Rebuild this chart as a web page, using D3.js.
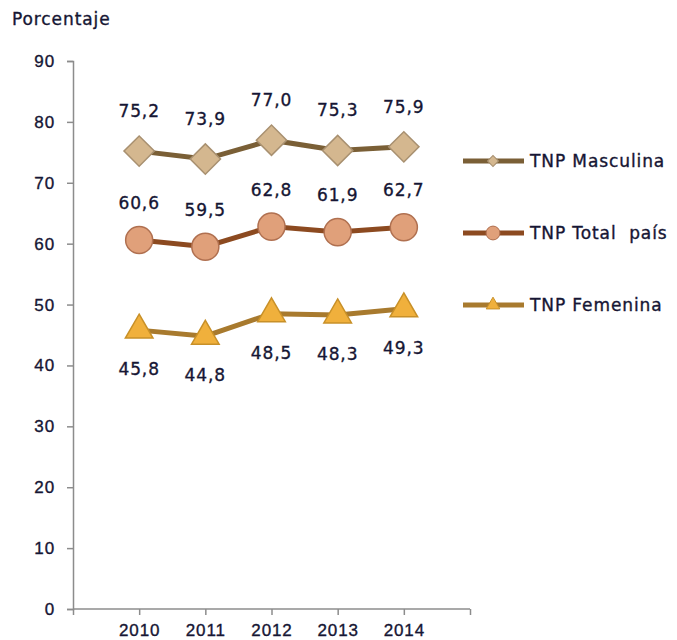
<!DOCTYPE html>
<html>
<head>
<meta charset="utf-8">
<script src="https://cdn.jsdelivr.net/npm/d3@7"></script>
<style>
body{margin:0;background:#fff;}
svg{display:block;font-family:Verdana,"DejaVu Sans",sans-serif;}
svg text{white-space:pre;letter-spacing:0.9px;stroke:#161634;stroke-width:0.35px;}
</style>
</head>
<body>
<svg id="chart" width="677" height="640"></svg>
<script>
let years=[2010,2011,2012,2013,2014];
let masculina=[75.2,73.9,77.0,75.3,75.9];
let total=[60.6,59.5,62.8,61.9,62.7];
let femenina=[45.8,44.8,48.5,48.3,49.3];
let yTicks=[0,10,20,30,40,50,60,70,80,90];
let seriesNames=["TNP Masculina","TNP Total  país","TNP Femenina"];

let svg=d3.select("#chart");
let txt="#161634";

let xScale=d3.scaleLinear().domain([2009,2015]).range([73,470]);
let yScale=d3.scaleLinear().domain([0,90]).range([609,61]);

// y axis
let yAxis=d3.axisLeft(yScale).tickValues(yTicks).tickSize(6).tickPadding(12);
let gy=svg.append("g").attr("transform","translate(73,0)").call(yAxis);
gy.select(".domain").attr("stroke","#8c8c8c").attr("stroke-width",1.5);
gy.selectAll(".tick line").attr("stroke","#8c8c8c").attr("stroke-width",1.5);
gy.selectAll(".tick text").style("font-size","17px").attr("fill",txt);

// x axis
let xAxis=d3.axisBottom(xScale).tickValues([2009,2010,2011,2012,2013,2014,2015])
  .tickSize(6).tickPadding(9).tickFormat(d=>years.includes(d)?d:"");
let gx=svg.append("g").attr("transform","translate(0,609)").call(xAxis);
gx.select(".domain").attr("stroke","#8c8c8c").attr("stroke-width",1.5).attr("d","M73,0H470");
gx.selectAll(".tick line").attr("stroke","#8c8c8c").attr("stroke-width",1.5);
gx.selectAll(".tick text").style("font-size","17px").attr("fill",txt);

svg.append("text").text("Porcentaje").attr("x",12).attr("y",25)
  .style("font-size","17px").attr("fill",txt);

let series=[
  {name:seriesNames[0],vals:masculina,line:"#7a5f36",fill:"#d4b78f",stroke:"#a89070",shape:d3.symbolSquare,rot:45,size:460,lsize:60,lab:-40},
  {name:seriesNames[1],vals:total,line:"#8c4a20",fill:"#e0a07a",stroke:"#b07050",shape:d3.symbolCircle,rot:0,size:575,lsize:150,lab:-37},
  {name:seriesNames[2],vals:femenina,line:"#a87a2e",fill:"#f0b03c",stroke:"#c89028",shape:d3.symbolTriangle,rot:0,size:330,lsize:80,lab:39}
];

let line=d3.line().x((d,i)=>xScale(years[i])).y(d=>yScale(d));

series.forEach((s,k)=>{
  svg.append("path").datum(s.vals).attr("d",line).attr("fill","none")
    .attr("stroke",s.line).attr("stroke-width",5);
  svg.selectAll(null).data(s.vals).enter().append("path")
    .attr("d",d3.symbol().type(s.shape).size(s.size))
    .attr("transform",(d,i)=>`translate(${xScale(years[i])},${yScale(d)}) rotate(${s.rot})`)
    .attr("fill",s.fill).attr("stroke",s.stroke).attr("stroke-width",1.5);
  svg.selectAll(null).data(s.vals).enter().append("text")
    .text(d=>d.toFixed(1).replace(".",","))
    .attr("x",(d,i)=>xScale(years[i])).attr("y",d=>yScale(d)+s.lab)
    .attr("dy","0.35em").attr("text-anchor","middle")
    .style("font-size","17px").attr("fill",txt);

  let ly=161+k*72;
  svg.append("line").attr("x1",463).attr("x2",524).attr("y1",ly).attr("y2",ly)
    .attr("stroke",s.line).attr("stroke-width",5);
  svg.append("path").attr("d",d3.symbol().type(s.shape).size(s.lsize))
    .attr("transform",`translate(493,${ly}) rotate(${s.rot})`)
    .attr("fill",s.fill).attr("stroke",s.stroke).attr("stroke-width",1);
  svg.append("text").text(s.name).attr("x",530).attr("y",ly).attr("dy","0.35em")
    .style("font-size","17px").attr("fill",txt);
});
</script>
</body>
</html>
